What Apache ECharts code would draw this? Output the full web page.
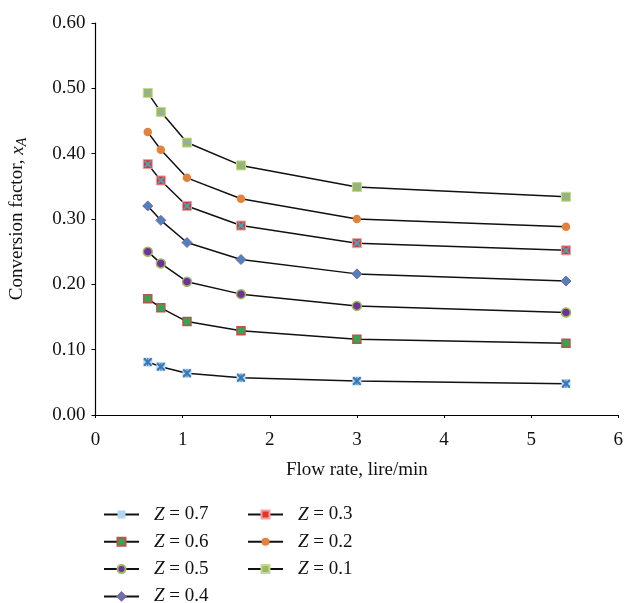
<!DOCTYPE html>
<html>
<head>
<meta charset="utf-8">
<script src="https://cdn.jsdelivr.net/npm/echarts@6/dist/echarts.min.js"></script>
<style>
  html, body { margin: 0; padding: 0; background: #fff; }
  #chart { width: 626px; height: 603px; }
</style>
</head>
<body>
<div id="chart"></div>
<script>
// ---- data ----
var flowRates = [0.6, 0.75, 1.05, 1.67, 3.0, 5.4];
var z07 = [0.081, 0.074, 0.064, 0.057, 0.052, 0.048];
var z06 = [0.178, 0.164, 0.143, 0.129, 0.116, 0.110];
var z05 = [0.250, 0.232, 0.204, 0.185, 0.167, 0.157];
var z04 = [0.320, 0.298, 0.264, 0.238, 0.216, 0.205];
var z03 = [0.384, 0.359, 0.320, 0.290, 0.263, 0.252];
var z02 = [0.433, 0.406, 0.363, 0.331, 0.300, 0.288];
var z01 = [0.493, 0.464, 0.417, 0.382, 0.349, 0.334];
var seriesNames = ['Z = 0.7', 'Z = 0.6', 'Z = 0.5', 'Z = 0.4', 'Z = 0.3', 'Z = 0.2', 'Z = 0.1'];
var yTicks = [0, 0.1, 0.2, 0.3, 0.4, 0.5, 0.6];
var xTicks = [0, 1, 2, 3, 4, 5, 6];

function pairs(ys) { return flowRates.map(function (x, i) { return [x, ys[i]]; }); }

var FONT = '"Liberation Serif", "Times New Roman", serif';
var FS = 19;
var X_PATH = 'path://M0,0 L2,0 L5,3 L8,0 L10,0 L10,2 L7,5 L10,8 L10,10 L8,10 L5,7 L2,10 L0,10 L0,8 L3,5 L0,2 Z';
var AST_PATH = 'path://M0,0 L2,0 L4.3,2.6 L4.3,0 L5.7,0 L5.7,2.6 L8,0 L10,0 L10,2 L7,5 L10,8 L10,10 L8,10 L5.7,7.4 L5.7,10 L4.3,10 L4.3,7.4 L2,10 L0,10 L0,8 L3,5 L0,2 Z';
var PLUS_PATH = 'path://M4,0 L6,0 L6,4 L10,4 L10,6 L6,6 L6,10 L4,10 L4,6 L0,6 L0,4 L4,4 Z';

var styles = [
  { symbol: 'rect', size: 9, color: '#b4d6ee', border: '#b4d6ee', bw: 0 },
  { symbol: 'rect', size: 8, color: '#2fa84f', border: '#c0504d', bw: 1.5 },
  { symbol: 'circle', size: 9, color: '#7030a0', border: '#9bbb59', bw: 1.5 },
  { symbol: 'diamond', size: 10, color: '#4f81bd', border: '#8064a2', bw: 1 },
  { symbol: 'rect', size: 9, color: '#e8302c', border: '#f2a0a0', bw: 1 },
  { symbol: 'circle', size: 8.5, color: '#e3823a', border: '#e3823a', bw: 0 },
  { symbol: 'rect', size: 9, color: '#9bbb59', border: '#c4d79b', bw: 1 }
];
var allData = [z07, z06, z05, z04, z03, z02, z01];

var series = [];
allData.forEach(function (ys, k) {
  var st = styles[k];
  series.push({
    name: seriesNames[k],
    type: 'line',
    data: pairs(ys),
    symbol: st.symbol,
    symbolSize: st.size,
    showAllSymbol: true,
    lineStyle: { color: '#111', width: 1.5 },
    itemStyle: { color: st.color, borderColor: st.border, borderWidth: st.bw, opacity: 1 },
    emphasis: { disabled: true },
    z: 2
  });
});
// overlay glyphs drawn on top of the base markers
var overlays = [
  { idx: 0, path: AST_PATH, color: '#3c78b8', size: 8 },
  { idx: 4, path: X_PATH, color: '#3aa8c0', size: 7 },
  { idx: 6, path: PLUS_PATH, color: '#8ea9c8', size: 6 }
];
overlays.forEach(function (o) {
  series.push({
    name: seriesNames[o.idx] + ' glyph',
    type: 'scatter',
    data: pairs(allData[o.idx]),
    symbol: o.path,
    symbolSize: o.size,
    itemStyle: { color: o.color, opacity: 1 },
    emphasis: { disabled: true },
    z: 3
  });
});

var legendText = {
  fontFamily: FONT, fontSize: FS, color: '#111', lineHeight: 18, padding: [0, 0, 0, 10],
  rich: { i: { fontFamily: FONT, fontSize: FS, fontStyle: 'italic', color: '#111' } }
};
function legendFmt(n) { return '{i|Z}' + n.slice(1).replace(/ /g, '\u00a0'); }

var chart = echarts.init(document.getElementById('chart'), null, { renderer: 'canvas' });
chart.setOption({
  animation: false,
  backgroundColor: '#fff',
  grid: { left: 94, right: 4, top: 23, bottom: 188, containLabel: false },
  xAxis: {
    type: 'value', min: xTicks[0], max: xTicks[xTicks.length - 1], interval: 1,
    name: 'Flow rate, lire/min', nameLocation: 'middle', nameGap: 46,
    nameTextStyle: { fontFamily: FONT, fontSize: FS, color: '#111' },
    axisLine: { show: true, onZero: false, lineStyle: { color: '#000', width: 1.2 } },
    axisTick: { show: true, length: 3, inside: false, lineStyle: { color: '#000' } },
    axisLabel: { fontFamily: FONT, fontSize: FS, color: '#111', margin: 16 },
    splitLine: { show: false }
  },
  yAxis: {
    type: 'value', min: yTicks[0], max: yTicks[yTicks.length - 1], interval: 0.1,
    name: 'Conversion factor, {i|x}{s|A}', nameLocation: 'middle', nameGap: 66, nameRotate: 90,
    nameTextStyle: {
      fontFamily: FONT, fontSize: FS, color: '#111',
      rich: {
        i: { fontFamily: FONT, fontSize: FS, fontStyle: 'italic', color: '#111' },
        s: { fontFamily: FONT, fontSize: 14, fontStyle: 'italic', color: '#111', padding: [10, 0, 0, 0] }
      }
    },
    axisLine: { show: true, lineStyle: { color: '#000', width: 1.2 } },
    axisTick: { show: true, length: 4, inside: false, lineStyle: { color: '#000' } },
    axisLabel: { fontFamily: FONT, fontSize: FS, color: '#111', margin: 10,
      formatter: function (v) { return v.toFixed(2); } },
    splitLine: { show: false }
  },
  legend: [
    {
      orient: 'vertical', left: 103, top: 505, height: 200, padding: 0, itemWidth: 35, itemHeight: 10, itemGap: 8.3,
      data: seriesNames.slice(0, 4), formatter: legendFmt, textStyle: legendText,
      selectedMode: false
    },
    {
      orient: 'vertical', left: 247, top: 505, height: 200, padding: 0, itemWidth: 35, itemHeight: 10, itemGap: 8.3,
      data: seriesNames.slice(4), formatter: legendFmt, textStyle: legendText,
      selectedMode: false
    }
  ],
  series: series
});
</script>
</body>
</html>
